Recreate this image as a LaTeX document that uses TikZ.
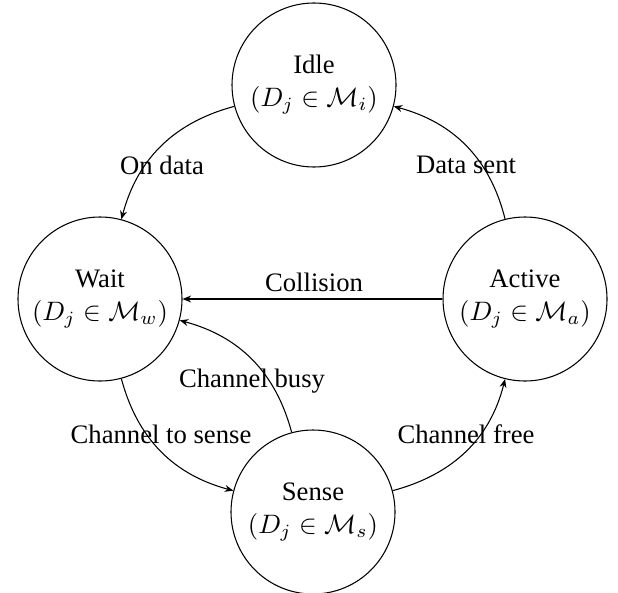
\documentclass[tikz,border=0pt]{standalone}
\usepackage{fontspec}
\setmainfont{Liberation Serif}
\usetikzlibrary{arrows.meta}
\begin{document}
\begin{tikzpicture}[x=0.375pt,y=-0.375pt,
  state/.style={draw,circle,minimum size=61.5pt,inner sep=0pt,align=center,font=\fontsize{10}{12.4}\selectfont},
  lbl/.style={inner sep=0pt,font=\fontsize{10}{12}\selectfont},
  arr/.style={draw,line width=0.4pt,-{Stealth[length=3.2pt,width=2.6pt]}}]
\useasboundingbox (0,0) rectangle (618,592);
\node[state] (idle) at (314,85) {Idle\\$(D_j\in\mathcal{M}_i)$};
\node[state] (wait) at (100,299) {Wait\\$(D_j\in\mathcal{M}_w)$};
\node[state] (active) at (525,299) {Active\\$(D_j\in\mathcal{M}_a)$};
\node[state] (sense) at (313,512) {Sense\\$(D_j\in\mathcal{M}_s)$};
\draw[arr] (idle.195) to[out=195,in=75] (wait.75);
\draw[arr] (active.104) to[out=104,in=-15] (idle.-15);
\draw[arr] (active.west) -- (wait.east);
\draw[arr] (sense.105) to[out=105,in=-15] (wait.-15);
\draw[arr] (wait.285) to[out=285,in=165] (sense.165);
\draw[arr] (sense.15) to[out=15,in=256] (active.256);
\node[lbl] (l1) at (162,165) {On data};
\node[lbl] (l2) at (466,165) {Data sent};
\node[lbl] (l3) at (314,282) {Collision};
\node[lbl] (l4) at (252,381) {Channel busy};
\node[lbl] (l5) at (161,434) {Channel to sense};
\node[lbl] (l6) at (466,434) {Channel free};
\end{tikzpicture}
\end{document}
